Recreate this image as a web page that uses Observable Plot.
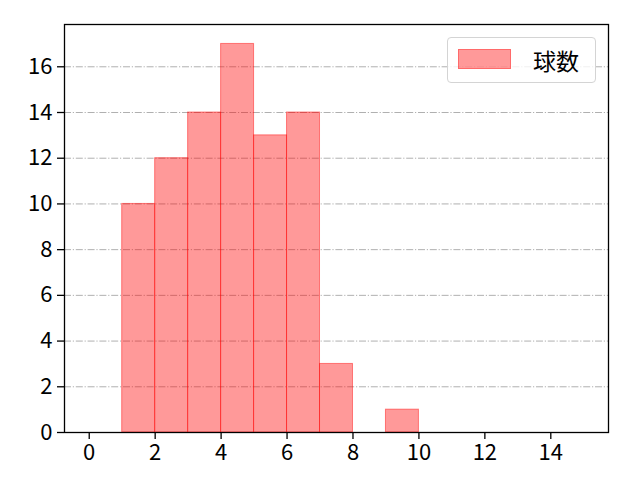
<!DOCTYPE html>
<html><head><meta charset="utf-8">
<script src="https://cdn.jsdelivr.net/npm/d3@7"></script>
<script src="https://cdn.jsdelivr.net/npm/@observablehq/plot@0.6"></script>
<style>
body{margin:0;background:#fff;}
#wrap{position:relative;width:640px;height:480px;}
#legend{position:absolute;left:447px;top:37px;width:149px;height:46px;border:1px solid #d4d4d4;border-radius:4px;background:rgba(255,255,255,0.8);box-sizing:border-box;font-family:"Noto Sans CJK JP",sans-serif;font-size:23px;color:#000;}
#legend .sw{position:absolute;left:10px;top:11px;width:53px;height:20px;background:rgba(255,0,0,0.4);border:1px solid rgba(255,0,0,0.3);box-sizing:border-box;}
#legend .lb{position:absolute;left:85px;top:0;height:44px;line-height:44px;}
</style>
</head><body>
<div id="wrap"><div id="legend"><div class="sw"></div><div class="lb" id="lbl"></div></div></div>
<script>
const binStarts = [1, 2, 3, 4, 5, 6, 7, 9];
const binEnds   = [2, 3, 4, 5, 6, 7, 8, 10];
const counts    = [10, 12, 14, 17, 13, 14, 3, 1];
const xTicks = [0, 2, 4, 6, 8, 10, 12, 14];
const yTicks = [0, 2, 4, 6, 8, 10, 12, 14, 16];
const seriesName = "球数";

const bins = counts.map((c, i) => ({x1: binStarts[i], x2: binEnds[i], y: c}));

const chart = Plot.plot({
  width: 640,
  height: 480,
  marginLeft: 64,
  marginRight: 32,
  marginTop: 24,
  marginBottom: 48,
  style: {fontFamily: '"Noto Sans CJK JP", sans-serif', fontSize: "22px", color: "#000", background: "#fff"},
  x: {domain: [-0.75, 15.75]},
  y: {domain: [0, 17.85]},
  marks: [
    Plot.ruleY(yTicks, {stroke: "#b0b0b0", strokeWidth: 1, strokeDasharray: "7,1.8,1.2,1.8"}),
    Plot.rectY(bins, {x1: "x1", x2: "x2", y: "y", fill: "#ff0000", fillOpacity: 0.4, stroke: "#ff0000", strokeOpacity: 0.45, strokeWidth: 1}),
    Plot.frame({stroke: "#000", strokeWidth: 1.3}),
    Plot.axisX({ticks: xTicks, tickSize: 7, tickPadding: 5, label: null, strokeWidth: 1.3, fontSize: 22}),
    Plot.axisY({ticks: yTicks, tickSize: 7, tickPadding: 5, label: null, strokeWidth: 1.3, fontSize: 22})
  ]
});
document.getElementById("wrap").prepend(chart);
document.getElementById("lbl").textContent = seriesName;
</script>
</body></html>
